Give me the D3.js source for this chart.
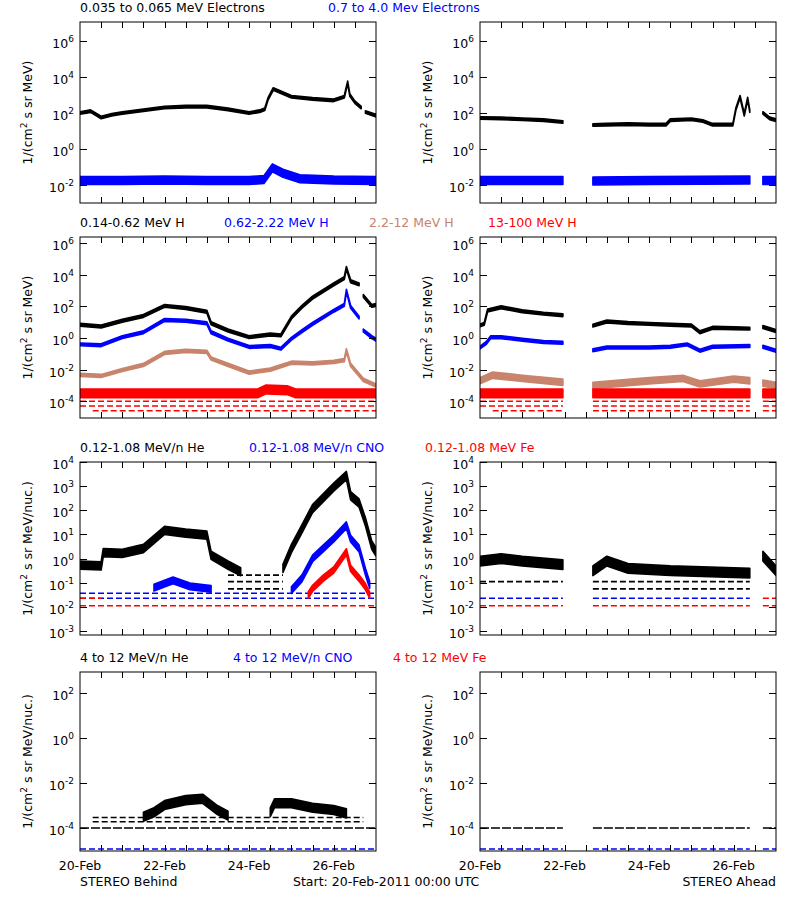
<!DOCTYPE html>
<html>
<head>
<style>
  body { margin: 0; padding: 0; background: #fff; }
  svg { font-family: "DejaVu Sans", sans-serif; }
</style>
<script src="https://cdnjs.cloudflare.com/ajax/libs/d3/7.8.5/d3.min.js"></script>
</head>
<body>
<svg width="800" height="900"></svg>
<script>
// time axis: days since 20-Feb-2011 00:00
const dayTicks = [0, 2, 4, 6];
const dayLabels = ['20-Feb', '22-Feb', '24-Feb', '26-Feb'];

// all series are [day, log10 flux]; null = data gap
// --- row 1: electrons
const eLowBehind = [[0,2.0],[0.25,2.1],[0.5,1.75],[0.75,1.9],[1,2.0],[1.5,2.15],[2,2.3],[2.5,2.35],[3,2.35],[3.5,2.2],[4,2.0],[4.25,2.1],[4.37,2.2],[4.45,2.8],[4.57,3.33],[5,2.9],[5.5,2.78],[6,2.7],[6.25,2.9],[6.33,3.7],[6.38,3.0],[6.5,2.6],[6.65,2.3],null,[6.75,2.05],[7,1.85]];
const eHighBehind = [[0,-1.75],[1,-1.75],[2,-1.72],[3,-1.75],[4,-1.75],[4.35,-1.7],[4.55,-1.05],[4.8,-1.35],[5.2,-1.65],[6,-1.72],[7,-1.75]];
const eLowAhead = [[0,1.72],[0.5,1.7],[1,1.65],[1.5,1.6],[1.96,1.5],null,[2.67,1.33],[3,1.35],[3.5,1.38],[4,1.35],[4.4,1.35],[4.5,1.6],[5,1.65],[5.27,1.55],[5.5,1.35],[5.98,1.35],[6.05,2.2],[6.15,2.9],[6.25,1.9],[6.33,2.8],[6.38,2.1],null,[6.69,2.0],[6.85,1.7],[7,1.6]];
const eHighAhead = [[0,-1.75],[1.96,-1.75],null,[2.67,-1.78],[4,-1.75],[6.38,-1.72],null,[6.69,-1.75],[7,-1.75]];

// --- row 2: protons
const h1Behind = [[0,0.85],[0.5,0.73],[1,1.1],[1.5,1.4],[2,2.04],[2.5,1.9],[3,1.67],[3.1,0.94],[3.5,0.48],[4,0.06],[4.5,0.23],[4.75,0.17],[5,1.3],[5.25,1.98],[5.5,2.56],[6,3.4],[6.25,3.8],[6.3,4.44],[6.4,3.6],[6.6,3.4],null,[6.7,2.67],[6.9,2.04],[7,2.1]];
const h2Behind = [[0,-0.4],[0.5,-0.45],[1,0.06],[1.5,0.37],[2,1.15],[2.5,1.1],[3,0.94],[3.1,0.37],[3.5,-0.1],[4,-0.56],[4.5,-0.5],[4.75,-0.67],[5,-0.04],[5.25,0.44],[5.5,0.9],[6,1.73],[6.25,2.1],[6.3,3.0],[6.4,1.98],[6.6,1.3],null,[6.7,0.48],[6.9,0.06],[7,-0.1]];
const h3Behind = [[0,-2.33],[0.5,-2.4],[1,-2.02],[1.5,-1.7],[2,-0.94],[2.5,-0.81],[3,-0.87],[3.1,-1.29],[3.5,-1.7],[4,-2.19],[4.5,-2.0],[5,-1.56],[5.5,-1.6],[6,-1.5],[6.25,-1.4],[6.3,-0.77],[6.4,-1.7],[6.6,-2.33],[6.7,-2.65],[7,-3.0]];
const h4Behind = [[0,-3.5],[4.2,-3.5],[4.4,-3.25],[4.9,-3.3],[5.1,-3.5],[7,-3.5]];
const h1Ahead = [[0,0.8],[0.1,0.9],[0.18,1.75],[0.5,1.95],[1,1.7],[1.5,1.55],[1.96,1.45],null,[2.67,0.79],[3,1.05],[3.5,0.95],[4,0.9],[4.5,0.85],[5,0.8],[5.2,0.37],[5.5,0.65],[6,0.62],[6.38,0.6],null,[6.69,0.7],[7,0.45]];
const h2Ahead = [[0,-0.6],[0.15,-0.3],[0.25,0.05],[0.5,0.05],[1,-0.1],[1.5,-0.25],[1.96,-0.3],null,[2.67,-0.77],[3,-0.6],[4,-0.6],[4.5,-0.55],[4.9,-0.4],[5.2,-0.8],[5.5,-0.55],[6.38,-0.5],null,[6.69,-0.55],[7,-0.8]];
const h3Ahead = [[0,-2.7],[0.3,-2.35],[1,-2.55],[1.96,-2.8],null,[2.67,-3.0],[4,-2.7],[4.8,-2.55],[5.2,-2.9],[6,-2.6],[6.38,-2.7],null,[6.69,-2.85],[7,-3.0]];
const h4Ahead = [[0,-3.5],[1.96,-3.5],null,[2.67,-3.5],[6.38,-3.5],null,[6.69,-3.5],[7,-3.5]];

// --- row 3: low-energy ions
const he1Behind = [[0,-0.27],[0.5,-0.3],[0.55,0.25],[1,0.22],[1.5,0.42],[2,1.17],[2.5,1.06],[3,0.97],[3.1,0.14],[3.5,-0.27],[3.8,-0.54],null,[4.8,-0.4],[5,0.42],[5.25,1.24],[5.5,2.07],[6,2.96],[6.3,3.44],[6.4,2.6],[6.6,2.3],[6.75,1.52],[6.9,0.56],[7,0.28]];
const cno1Behind = [[1.75,-1.2],[2.2,-0.9],[2.6,-1.15],[3.1,-1.25],null,[5.0,-1.3],[5.25,-0.81],[5.5,0.01],[5.75,0.42],[6,0.83],[6.3,1.38],[6.4,0.83],[6.6,0.42],[6.75,-0.54],[6.85,-1.09]];
const fe1Behind = [[5.4,-1.5],[5.5,-1.23],[5.75,-0.81],[6,-0.47],[6.3,0.28],[6.4,-0.4],[6.6,-0.81],[6.75,-1.16],[6.85,-1.5]];
const he1Ahead = [[0,-0.1],[0.5,0.0],[1,-0.1],[1.96,-0.25],null,[2.67,-0.5],[3,-0.1],[3.5,-0.4],[4.5,-0.5],[6.38,-0.6],null,[6.69,0.1],[7,-0.5]];

// --- row 4: high-energy ions
const he4Behind = [[1.5,-3.5],[1.75,-3.3],[2,-2.98],[2.5,-2.76],[2.9,-2.7],[3.25,-3.2],[3.5,-3.45],null,[4.5,-3.3],[4.6,-2.9],[5,-2.9],[5.5,-3.1],[6,-3.2],[6.3,-3.35]];

// quantised one-count levels: [log10 level, from day, to day, colour]
const levelsH = [[-4.0,0,7,'red'],[-4.3,0,7,'red'],[-4.6,0.3,7,'red']];
const levelsIonBehind = [[-0.68,3.5,4.8,'black'],[-0.95,3.5,4.8,'black'],[-1.25,3.5,4.8,'black'],[-1.43,0,7,'blue'],[-1.64,0,7,'blue'],[-1.64,0,0.5,'red'],[-1.95,0,7,'red']];
const levelsIonAhead = [[-0.95,0,1.96,'black'],[-1.25,2.67,6.38,'black'],[-0.95,2.67,6.38,'black'],[-1.64,0,1.96,'blue'],[-1.64,2.67,6.38,'blue'],[-1.95,0,1.96,'red'],[-1.95,2.67,6.38,'red'],[-1.64,6.69,7,'red'],[-1.95,6.69,7,'red']];
const levelsHiBehind = [[-3.53,0.3,6.7,'black'],[-3.72,0.3,6.7,'black'],[-4.0,0,7,'black'],[-4.93,0,7,'blue']];
const levelsHiAhead = [[-4.0,0,1.96,'black'],[-4.0,2.67,6.38,'black'],[-4.0,6.69,7,'black'],[-4.93,0,7,'blue']];

const TAN = '#c8846c';
const cols = [80, 480], W = 296;
const rows = [
  { top: 22, bottom: 203, dom: [-3, 7.05], ticks: [-2, 0, 2, 4, 6], unit: 'MeV)',
    titles: [['0.035 to 0.065 MeV Electrons', 80, 'black'], ['0.7 to 4.0 Mev Electrons', 328, 'blue']],
    left: { bands: [[eLowBehind, 'black', 0.07], [eHighBehind, 'blue', 0.22]], levels: [] },
    right: { bands: [[eLowAhead, 'black', 0.07], [eHighAhead, 'blue', 0.22]], levels: [] } },
  { top: 237, bottom: 418, dom: [-5.06, 6.4], ticks: [-4, -2, 0, 2, 4, 6], unit: 'MeV)',
    titles: [['0.14-0.62 MeV H', 80, 'black'], ['0.62-2.22 MeV H', 224, 'blue'], ['2.2-12 MeV H', 369, TAN], ['13-100 MeV H', 488, 'red']],
    left: { bands: [[h1Behind, 'black', 0.09], [h2Behind, 'blue', 0.09], [h3Behind, TAN, 0.1], [h4Behind, 'red', 0.28]], levels: levelsH },
    right: { bands: [[h1Ahead, 'black', 0.09], [h2Ahead, 'blue', 0.09], [h3Ahead, TAN, 0.2], [h4Ahead, 'red', 0.28]], levels: levelsH } },
  { top: 462, bottom: 635, dom: [-3.16, 4], ticks: [-3, -2, -1, 0, 1, 2, 3, 4], unit: 'MeV/nuc.)',
    titles: [['0.12-1.08 MeV/n He', 80, 'black'], ['0.12-1.08 MeV/n CNO', 249, 'blue'], ['0.12-1.08 MeV Fe', 425, 'red']],
    left: { bands: [[he1Behind, 'black', 0.17], [cno1Behind, 'blue', 0.14], [fe1Behind, 'red', 0.13]], levels: levelsIonBehind },
    right: { bands: [[he1Ahead, 'black', 0.2]], levels: levelsIonAhead } },
  { top: 672, bottom: 851, dom: [-5.02, 2.93], ticks: [-4, -2, 0, 2], unit: 'MeV/nuc.)',
    titles: [['4 to 12 MeV/n He', 80, 'black'], ['4 to 12 MeV/n CNO', 233, 'blue'], ['4 to 12 MeV Fe', 393, 'red']],
    left: { bands: [[he4Behind, 'black', 0.2]], levels: levelsHiBehind },
    right: { bands: [], levels: levelsHiAhead } }
];

const svg = d3.select('svg');
const gapsAhead = [[1.96, 2.67], [6.38, 6.69]];

rows.forEach((r, ri) => {
  r.titles.forEach(t => svg.append('text').attr('x', t[1]).attr('y', r.top - 10)
    .attr('fill', t[2]).attr('font-size', 12.5).text(t[0]));

  cols.forEach((x0, ci) => {
    const side = ci === 0 ? r.left : r.right;
    const x = d3.scaleLinear().domain([0, 7]).range([x0, x0 + W]);
    const y = d3.scaleLinear().domain(r.dom).range([r.bottom, r.top]);
    const g = svg.append('g');
    const clipId = 'c' + ri + ci;
    g.append('clipPath').attr('id', clipId).append('rect')
      .attr('x', x0).attr('y', r.top).attr('width', W).attr('height', r.bottom - r.top);
    const plot = g.append('g').attr('clip-path', `url(#${clipId})`);

    // quantised levels (dashed, as isolated counts)
    side.levels.forEach(l => {
      let segs = [[l[1], l[2]]];
      if (ci === 1) gapsAhead.forEach(gp => {
        segs = segs.flatMap(o => (o[0] < gp[1] && o[1] > gp[0])
          ? [[o[0], gp[0]], [gp[1], o[1]]].filter(q => q[1] > q[0]) : [o]);
      });
      segs.forEach(s => plot.append('line')
        .attr('x1', x(s[0])).attr('x2', x(s[1])).attr('y1', y(l[0])).attr('y2', y(l[0]))
        .attr('stroke', l[3]).attr('stroke-width', 1.6)
        .attr('stroke-dasharray', l[0] === -4.0 && ri === 3 ? '9,2' : '6,3'));
    });

    // flux bands
    side.bands.forEach(b => {
      const data = b[0], colour = b[1], hw = b[2];
      const area = d3.area().defined(d => d !== null)
        .x(d => x(d[0])).y0(d => y(d[1] - hw)).y1(d => y(d[1] + hw));
      plot.append('path').datum(data).attr('d', area).attr('fill', colour)
        .attr('stroke', colour).attr('stroke-width', 1.6).attr('stroke-linejoin', 'round');
    });

    // frame
    g.append('rect').attr('x', x0).attr('y', r.top).attr('width', W).attr('height', r.bottom - r.top)
      .attr('fill', 'none').attr('stroke', 'black').attr('stroke-width', 1);

    // x ticks every 12 h, bottom and top
    d3.range(1, 14).forEach(k => {
      const xx = Math.round(x(k / 2)) + 0.5;
      g.append('line').attr('x1', xx).attr('x2', xx).attr('y1', r.bottom).attr('y2', r.bottom - 6).attr('stroke', 'black');
      g.append('line').attr('x1', xx).attr('x2', xx).attr('y1', r.top).attr('y2', r.top + 6).attr('stroke', 'black');
    });
    // y ticks and labels
    r.ticks.forEach(e => {
      const yy = Math.round(y(e)) + 0.5;
      g.append('line').attr('x1', x0).attr('x2', x0 + 7).attr('y1', yy).attr('y2', yy).attr('stroke', 'black');
      g.append('line').attr('x1', x0 + W).attr('x2', x0 + W - 7).attr('y1', yy).attr('y2', yy).attr('stroke', 'black');
      const t = g.append('text').attr('x', x0 - 6).attr('y', yy + 6).attr('text-anchor', 'end').attr('font-size', 12.5);
      t.append('tspan').text('10');
      t.append('tspan').attr('dy', -6).attr('font-size', 9).text(e);
    });
    // y title
    const yt = g.append('text').attr('font-size', 12.5).attr('text-anchor', 'middle')
      .attr('transform', `translate(${x0 - 48},${(r.top + r.bottom) / 2}) rotate(-90)`);
    yt.append('tspan').text('1/(cm');
    yt.append('tspan').attr('dy', -5).attr('font-size', 9).text('2');
    yt.append('tspan').attr('dy', 5).text(' s sr ' + r.unit);

    if (ri === 3) {
      dayTicks.forEach((d, i) => g.append('text').attr('x', x(d)).attr('y', 870)
        .attr('text-anchor', 'middle').attr('font-size', 12.5).text(dayLabels[i]));
    }
  });
});

svg.append('text').attr('x', 80).attr('y', 886).attr('font-size', 12.5).text('STEREO Behind');
svg.append('text').attr('x', 293).attr('y', 886).attr('font-size', 12.5).text('Start: 20-Feb-2011 00:00 UTC');
svg.append('text').attr('x', 776).attr('y', 886).attr('text-anchor', 'end').attr('font-size', 12.5).text('STEREO Ahead');
</script>
</body>
</html>
